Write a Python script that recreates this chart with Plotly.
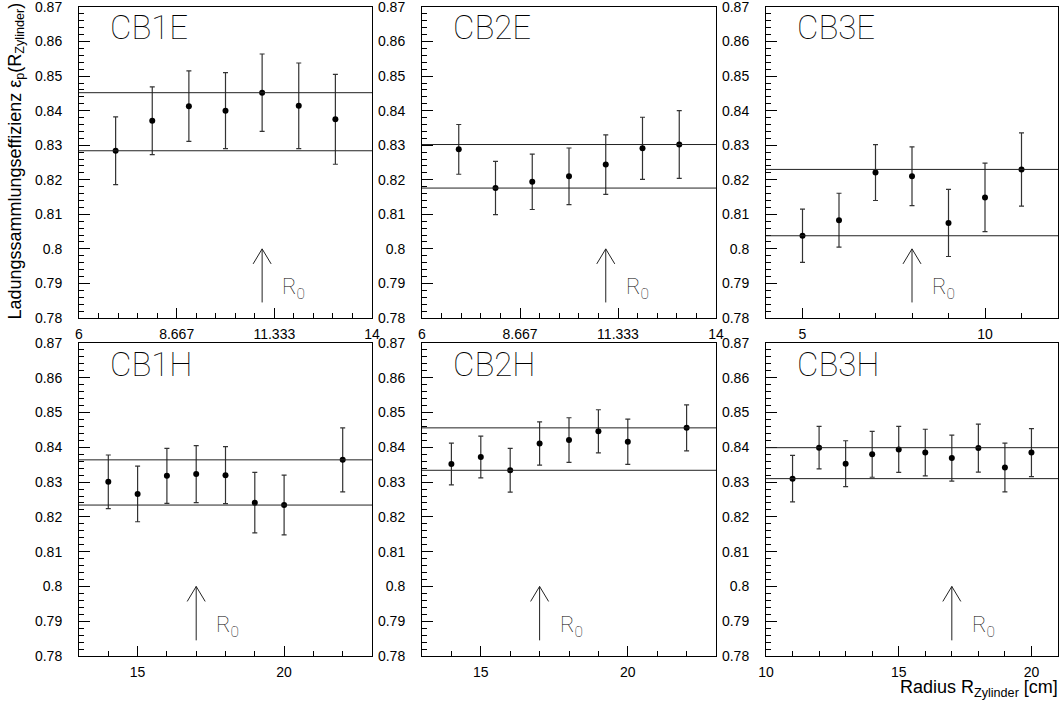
import numpy as np
import plotly.graph_objects as go

# ---------------- data ----------------
panel_names = ["CB1E", "CB2E", "CB3E", "CB1H", "CB2H", "CB3H"]

cb1e_x = [7, 8, 9, 10, 11, 12, 13]
cb1e_y = [0.8284, 0.8371, 0.8413, 0.8400, 0.8452, 0.8414, 0.8375]
cb1e_err = [0.0098, 0.0098, 0.0102, 0.0110, 0.0112, 0.0124, 0.0130]

cb2e_x = [7, 8, 9, 10, 11, 12, 13]
cb2e_y = [0.8288, 0.8176, 0.8194, 0.8210, 0.8244, 0.8291, 0.8302]
cb2e_err = [0.0072, 0.0077, 0.0080, 0.0082, 0.0086, 0.0090, 0.0098]

cb3e_x = [5, 6, 7, 8, 9, 10, 11]
cb3e_y = [0.8038, 0.8083, 0.8221, 0.8210, 0.8075, 0.8149, 0.8230]
cb3e_err = [0.0077, 0.0078, 0.0081, 0.0085, 0.0097, 0.0099, 0.0106]

cb1h_x = [14, 15, 16, 17, 18, 19, 20, 22]
cb1h_y = [0.8301, 0.8266, 0.8318, 0.8323, 0.8320, 0.8241, 0.8234, 0.8364]
cb1h_err = [0.0077, 0.0080, 0.0079, 0.0082, 0.0082, 0.0087, 0.0086, 0.0092]

cb2h_x = [14, 15, 16, 17, 18, 19, 20, 22]
cb2h_y = [0.8352, 0.8372, 0.8334, 0.8411, 0.8421, 0.8446, 0.8416, 0.8456]
cb2h_err = [0.0060, 0.0060, 0.0063, 0.0062, 0.0064, 0.0062, 0.0065, 0.0066]

cb3h_x = [11, 12, 13, 14, 15, 16, 17, 18, 19, 20]
cb3h_y = [0.8310, 0.8399, 0.8353, 0.8380, 0.8394, 0.8385, 0.8369, 0.8398, 0.8342, 0.8385]
cb3h_err = [0.0067, 0.0061, 0.0066, 0.0066, 0.0066, 0.0067, 0.0066, 0.0069, 0.0070, 0.0069]

# R0 marker position per panel
r0_values = [11, 11, 8, 17, 17, 17]

# axis ranges and tick labels
x_ranges = [(6, 14), (6, 14), (4, 12), (13, 23), (13, 23), (10, 21)]
x_tickvals = [[6, 6 + 8 / 3, 6 + 16 / 3, 14], [6, 6 + 8 / 3, 6 + 16 / 3, 14],
              [5, 10], [15, 20], [15, 20], [10, 15, 20]]
x_ticktext = [["6", "8.667", "11.333", "14"], ["6", "8.667", "11.333", "14"],
              ["5", "10"], ["15", "20"], ["15", "20"], ["10", "15", "20"]]
x_minor_dtick = [8 / 15, 8 / 15, 1, 1, 1, 1]
y_range = (0.78, 0.87)

series = [(cb1e_x, cb1e_y, cb1e_err), (cb2e_x, cb2e_y, cb2e_err), (cb3e_x, cb3e_y, cb3e_err),
          (cb1h_x, cb1h_y, cb1h_err), (cb2h_x, cb2h_y, cb2h_err), (cb3h_x, cb3h_y, cb3h_err)]

# ---------------- layout geometry (pixels) ----------------
W, H = 1060, 703
cols_px = [(79, 372), (422, 716), (766, 1058)]
rows_px = [(7, 318), (343, 656)]

fig = go.Figure()
layout = dict(width=W, height=H, autosize=False,
              margin=dict(l=0, r=0, t=0, b=0, pad=0, autoexpand=False),
              paper_bgcolor="white", plot_bgcolor="white", showlegend=False)

TICKFONT = dict(family="Liberation Sans, Arial, sans-serif", size=14, color="black")
THIN = dict(family="Roboto, DejaVu Sans, sans-serif", size=33, color="black", weight=100)

shapes = []
annotations = []

for i in range(6):
    r, c = divmod(i, 3)
    xs, ys, es = series[i]
    xa = "x" if i == 0 else f"x{i+1}"
    ya = "y" if i == 0 else f"y{i+1}"
    xkey = "xaxis" if i == 0 else f"xaxis{i+1}"
    ykey = "yaxis" if i == 0 else f"yaxis{i+1}"
    x0p, x1p = cols_px[c]
    y0p, y1p = rows_px[r]
    layout[xkey] = dict(
        domain=[x0p / W, x1p / W], anchor=ya, range=list(x_ranges[i]),
        tickmode="array", tickvals=x_tickvals[i], ticktext=x_ticktext[i],
        ticks="inside", ticklen=10, tickwidth=1, tickcolor="black",
        minor=dict(ticks="inside", ticklen=5, tickwidth=1, tickcolor="black",
                   tick0=x_ranges[i][0], dtick=x_minor_dtick[i], showgrid=False),
        showline=True, mirror=True, linecolor="black", linewidth=1,
        showgrid=False, zeroline=False, tickfont=TICKFONT, ticklabelstandoff=3,
        ticklabeloverflow="allow",
    )
    layout[ykey] = dict(
        domain=[1 - y1p / H, 1 - y0p / H], anchor=xa, range=list(y_range),
        tick0=0.78, dtick=0.01,
        ticks="inside", ticklen=11, tickwidth=1, tickcolor="black",
        minor=dict(ticks="inside", ticklen=5, tickwidth=1, tickcolor="black",
                   tick0=0.78, dtick=0.002, showgrid=False),
        showline=True, mirror=True, linecolor="black", linewidth=1,
        showgrid=False, zeroline=False, tickfont=TICKFONT, ticklabelstandoff=13,
        ticklabeloverflow="allow",
    )

    fig.add_trace(go.Scatter(
        x=xs, y=ys, mode="markers", xaxis=xa, yaxis=ya,
        marker=dict(color="black", size=6),
        error_y=dict(type="data", array=es, visible=True, color="#333333",
                     thickness=1.2, width=2.5),
    ))

    # horizontal band lines at max / min of the points
    for lv in (max(ys), min(ys)):
        shapes.append(dict(type="line", xref=f"{xa} domain", yref=ya,
                           x0=0, x1=1, y0=lv, y1=lv,
                           line=dict(color="#222222", width=1)))

    # R0 arrow
    r0 = r0_values[i]
    shapes.append(dict(type="line", xref=xa, yref=ya, x0=r0, x1=r0, y0=0.7845, y1=0.80,
                       line=dict(color="#222222", width=1)))
    for sgn in (-1, 1):
        shapes.append(dict(type="line", xref=xa, yref=ya,
                           xsizemode="pixel", ysizemode="pixel",
                           xanchor=r0, yanchor=0.80,
                           x0=sgn * 9, x1=0, y0=-15, y1=0,
                           line=dict(color="#222222", width=1)))
    annotations.append(dict(xref=xa, yref=ya, x=r0, y=0.7885, xanchor="left",
                            yanchor="middle", xshift=18, showarrow=False,
                            text="R<sub>0</sub>",
                            font=dict(family=THIN["family"], size=22, color="black", weight=100)))

    # panel label
    annotations.append(dict(xref=f"{xa} domain", yref=f"{ya} domain", x=0, y=1,
                            xanchor="left", yanchor="middle", xshift=29, yshift=-21,
                            showarrow=False, text=panel_names[i], font=THIN))

# axis titles
annotations.append(dict(xref="paper", yref="paper", x=16 / W, y=1 - 1 / H,
                        xanchor="center", yanchor="top", textangle=-90, showarrow=False,
                        text="Ladungssammlungseffizienz ε<sub>p</sub>(R<sub>Zylinder</sub>)",
                        font=dict(family="Liberation Sans, Arial, sans-serif", size=18, color="black")))
annotations.append(dict(xref="paper", yref="paper", x=1060 / W, y=1 - 688 / H,
                        xanchor="right", yanchor="middle", showarrow=False,
                        text="Radius R<sub>Zylinder</sub> [cm]",
                        font=dict(family="Liberation Sans, Arial, sans-serif", size=18, color="black")))

layout["shapes"] = shapes
layout["annotations"] = annotations
fig.update_layout(**layout)
fig.write_html("out.html",
               config={"responsive": False, "displayModeBar": False},
               post_script="document.body.style.margin='0';document.body.style.padding='0';"
                           "document.documentElement.style.overflow='hidden';")
